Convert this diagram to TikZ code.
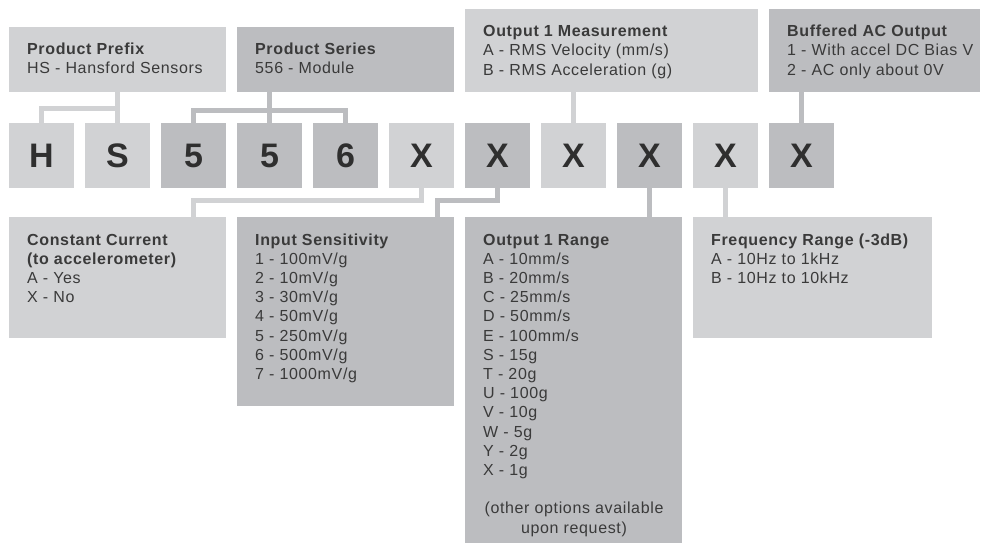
\documentclass[tikz,border=0pt]{standalone}
\usepackage{fontspec}
\setmainfont{Liberation Sans}[LetterSpace=4]
\usetikzlibrary{calc}
\definecolor{lgray}{HTML}{D1D2D4}
\definecolor{dgray}{HTML}{BCBDC0}
\definecolor{ink}{HTML}{3A3A3A}
\definecolor{bigink}{HTML}{2F2F2F}
\begin{document}
\begin{tikzpicture}[x=1pt,y=-1pt,
  lbox/.style={fill=lgray, draw=none, inner sep=0pt, outer sep=0pt},
  dbox/.style={fill=dgray, draw=none, inner sep=0pt, outer sep=0pt},
  lcon/.style={draw=lgray, line width=5pt},
  dcon/.style={draw=dgray, line width=5pt},
  ttl/.style={anchor=base west, inner sep=0pt, text=ink, font=\fontsize{16}{19}\selectfont\bfseries},
  txt/.style={anchor=base west, inner sep=0pt, text=ink, font=\fontsize{16}{19}\selectfont},
  ctxt/.style={anchor=base, inner sep=0pt, text=ink, font=\fontsize{16}{19}\selectfont},
  letterbox/.style={minimum width=65pt, minimum height=65pt, inner sep=0pt, outer sep=0pt, text=bigink, font=\fontsize{34}{34}\selectfont\bfseries}
]
\path[use as bounding box] (0,0) rectangle (982,543);
\fill[white] (0,0) rectangle (982,543);

% letter boxes
\foreach \L/\c [count=\i] in {H/lgray,S/lgray,5/dgray,5/dgray,6/dgray,X/lgray,X/dgray,X/lgray,X/dgray,X/lgray,X/dgray}
  \node[letterbox, fill=\c] (b\i) at ({9+76*(\i-1)+32.5},155.5) {\L};

% top boxes
\node[lbox, minimum width=217pt, minimum height=65pt] (pp) at (117.5,59.5) {};
\node[dbox, minimum width=217pt, minimum height=65pt] (ps) at (345.5,59.5) {};
\node[lbox, minimum width=293pt, minimum height=83pt] (om) at (611.5,50.5) {};
\node[dbox, minimum width=211pt, minimum height=83pt] (bo) at (874.5,50.5) {};

% bottom boxes
\node[lbox, minimum width=217pt, minimum height=121pt] (cc) at (117.5,277.5) {};
\node[dbox, minimum width=217pt, minimum height=189pt] (is) at (345.5,311.5) {};
\node[dbox, minimum width=217pt, minimum height=326pt] (or) at (573.5,380) {};
\node[lbox, minimum width=239pt, minimum height=121pt] (fr) at (812.5,277.5) {};

% bus levels
\coordinate (pbus) at (0,108);
\coordinate (sbus) at (0,110);
\coordinate (bbus) at (0,200);
\coordinate (isin) at ($(is.north east)+(-17,0)$);

% top connectors
\draw[lcon] (b1.north) -- (b1.north |- pbus) -- (b2.north |- pbus);
\draw[lcon] (b2.north) -- (pp.south -| b2.north);
\draw[dcon] (b3.north) -- (b3.north |- sbus) -- (b5.north |- sbus) -- (b5.north);
\draw[dcon] (b4.north) -- (ps.south -| b4.north);
\draw[lcon] (b8.north) -- (om.south -| b8.north);
\draw[dcon] (b11.north) -- (bo.south -| b11.north);

% bottom connectors
\draw[lcon] (b6.south) -- (b6.south |- bbus) -- (b3.south |- bbus) -- (cc.north -| b3.south);
\draw[dcon] (b7.south) -- (b7.south |- bbus) -- (isin |- bbus) -- (isin);
\draw[dcon] (b9.south) -- (or.north -| b9.south);
\draw[lcon] (b10.south) -- (fr.north -| b10.south);

% top texts
\node[ttl] (pp-t) at (27,55) {Product Prefix};
\node[txt] (pp-1) at (27,74) {HS - Hansford Sensors};
\node[ttl] (ps-t) at (255,55) {Product Series};
\node[txt] (ps-1) at (255,74) {556 - Module};
\node[ttl] (om-t) at (483,37) {Output 1 Measurement};
\node[txt] (om-1) at (483,56) {A - RMS Velocity (mm/s)};
\node[txt] (om-2) at (483,75) {B - RMS Acceleration (g)};
\node[ttl] (bo-t) at (787,37) {Buffered AC Output};
\node[txt] (bo-1) at (787,56) {1 - With accel DC Bias V};
\node[txt] (bo-2) at (787,75) {2 - AC only about 0V};

% bottom texts
\node[ttl] (cc-t) at (27,245) {Constant Current};
\node[ttl] (cc-t2) at (27,264.2) {(to accelerometer)};
\node[txt] (cc-1) at (27,283.4) {A - Yes};
\node[txt] (cc-2) at (27,302.6) {X - No};

\node[ttl] (is-t) at (255,245) {Input Sensitivity};
\foreach \t [count=\i] in {1 - 100mV/g,2 - 10mV/g,3 - 30mV/g,4 - 50mV/g,5 - 250mV/g,6 - 500mV/g,7 - 1000mV/g}
  \node[txt] (is-\i) at (255,{245+19.2*\i}) {\t};

\node[ttl] (or-t) at (483,245) {Output 1 Range};
\foreach \t [count=\i] in {A - 10mm/s,B - 20mm/s,C - 25mm/s,D - 50mm/s,E - 100mm/s,S - 15g,T - 20g,U - 100g,V - 10g,W - 5g,Y - 2g,X - 1g}
  \node[txt] (or-\i) at (483,{245+19.2*\i}) {\t};
\node[ctxt] (or-n1) at (574,513.8) {(other options available};
\node[ctxt] (or-n2) at (574,533) {upon request)};

\node[ttl] (fr-t) at (711,245) {Frequency Range (-3dB)};
\node[txt] (fr-1) at (711,264.2) {A - 10Hz to 1kHz};
\node[txt] (fr-2) at (711,283.4) {B - 10Hz to 10kHz};
\end{tikzpicture}
\end{document}
